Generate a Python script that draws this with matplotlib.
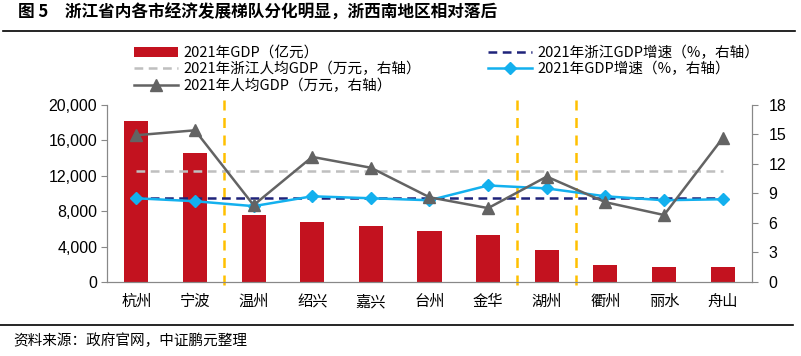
import matplotlib
matplotlib.use("Agg")
import matplotlib.pyplot as plt
import numpy as np

plt.rcParams['font.family'] = ['Noto Sans CJK SC', 'DejaVu Sans']

cities = ['杭州', '宁波', '温州', '绍兴', '嘉兴', '台州', '金华', '湖州', '衢州', '丽水', '舟山']
gdp = [18109, 14595, 7585, 6795, 6355, 5786, 5355, 3645, 1876, 1710, 1650]  # 亿元
gdp_pc = [14.9, 15.4, 7.8, 12.7, 11.6, 8.6, 7.5, 10.7, 8.1, 6.8, 14.6]    # 万元
gdp_growth = [8.5, 8.2, 7.7, 8.7, 8.5, 8.3, 9.8, 9.5, 8.7, 8.3, 8.4]      # %
zj_growth = 8.5
zj_pc = 11.3
dividers = [1.5, 6.5, 7.5]

red = '#C3121F'
grey = '#636363'
cyan = '#13B0EE'
navy = '#1F237A'
lgrey = '#BFBFBF'
orange = '#FFC000'

fig = plt.figure(figsize=(8.01, 3.56), dpi=100)
ax = fig.add_axes([0.1336, 0.2079, 0.8052, 0.498])
ax2 = ax.twinx()

x = np.arange(len(cities))
ax.bar(x, gdp, width=0.41, color=red, label='2021年GDP（亿元）', zorder=2)
ax.set_ylim(0, 20000)
ax.set_yticks(range(0, 20001, 4000))
ax.set_yticklabels([f'{v:,}' for v in range(0, 20001, 4000)],
                   family=['Liberation Sans', 'Noto Sans CJK SC'], fontsize=11.5)
ax.set_xlim(-0.5, len(cities) - 0.5)
ax.set_xticks(x)
ax.set_xticklabels(cities, fontsize=11)
ax.tick_params(axis='x', length=0, pad=8)
ax.tick_params(axis='y', length=4, color='#888888', pad=3)

ax2.set_ylim(0, 18)
ax2.set_yticks(range(0, 19, 3))
ax2.set_yticklabels([str(v) for v in range(0, 19, 3)],
                    family=['Liberation Sans', 'Noto Sans CJK SC'], fontsize=11.5)
ax2.tick_params(axis='y', length=4, color='#888888', pad=8)

xs = [x[0], x[-1]]
ax2.plot(xs, [zj_growth] * 2, ls=(0, (3.5, 2.2)), color=navy, lw=1.8,
         label='2021年浙江GDP增速（%，右轴）', zorder=3)
ax2.plot(xs, [zj_pc] * 2, ls=(0, (3.5, 2.2)), color=lgrey, lw=1.8,
         label='2021年浙江人均GDP（万元，右轴）', zorder=3)
ax2.plot(x, gdp_growth, color=cyan, lw=1.8, marker='D', ms=6,
         label='2021年GDP增速（%，右轴）', zorder=4)
ax2.plot(x, gdp_pc, color=grey, lw=1.8, marker='^', ms=8,
         label='2021年人均GDP（万元，右轴）', zorder=5)

for d in dividers:
    ax2.plot([d, d], [-0.3, 18.6], ls=(0, (4, 3)), color=orange, lw=1.8,
             clip_on=False, zorder=1)

for a in (ax, ax2):
    a.spines['top'].set_visible(False)
    for s in ('left', 'right', 'bottom'):
        a.spines[s].set_color('#888888')
ax.set_zorder(ax2.get_zorder() - 1)
ax2.patch.set_visible(False)

h1, l1 = ax.get_legend_handles_labels()
h2, l2 = ax2.get_legend_handles_labels()
hd = dict(zip(l1 + l2, h1 + h2))
order = ['2021年GDP（亿元）', '2021年浙江人均GDP（万元，右轴）', '2021年人均GDP（万元，右轴）',
         '2021年浙江GDP增速（%，右轴）', '2021年GDP增速（%，右轴）']
handles = [hd[k] for k in order] + [plt.Line2D([], [], alpha=0)]
labels = order + ['']
fig.legend(handles, labels, ncol=2, loc='upper left', bbox_to_anchor=(0.158, 0.893),
           frameon=False, fontsize=10.5, handlelength=3.0, handletextpad=0.4,
           columnspacing=4.6, labelspacing=0.15, borderpad=0)

fig.text(0.022, 0.965, '图 5　浙江省内各市经济发展梯队分化明显，浙西南地区相对落后',
         fontsize=12, fontweight='bold', va='center')
fig.add_artist(plt.Line2D([0.004, 0.993], [0.914, 0.914], color='black', lw=1.2))
fig.add_artist(plt.Line2D([0.0, 0.99], [0.087, 0.087], color='black', lw=1.2))
fig.text(0.016, 0.042, '资料来源：政府官网，中证鹏元整理', fontsize=10.5, va='center')

fig.savefig('out.png', dpi=100)
